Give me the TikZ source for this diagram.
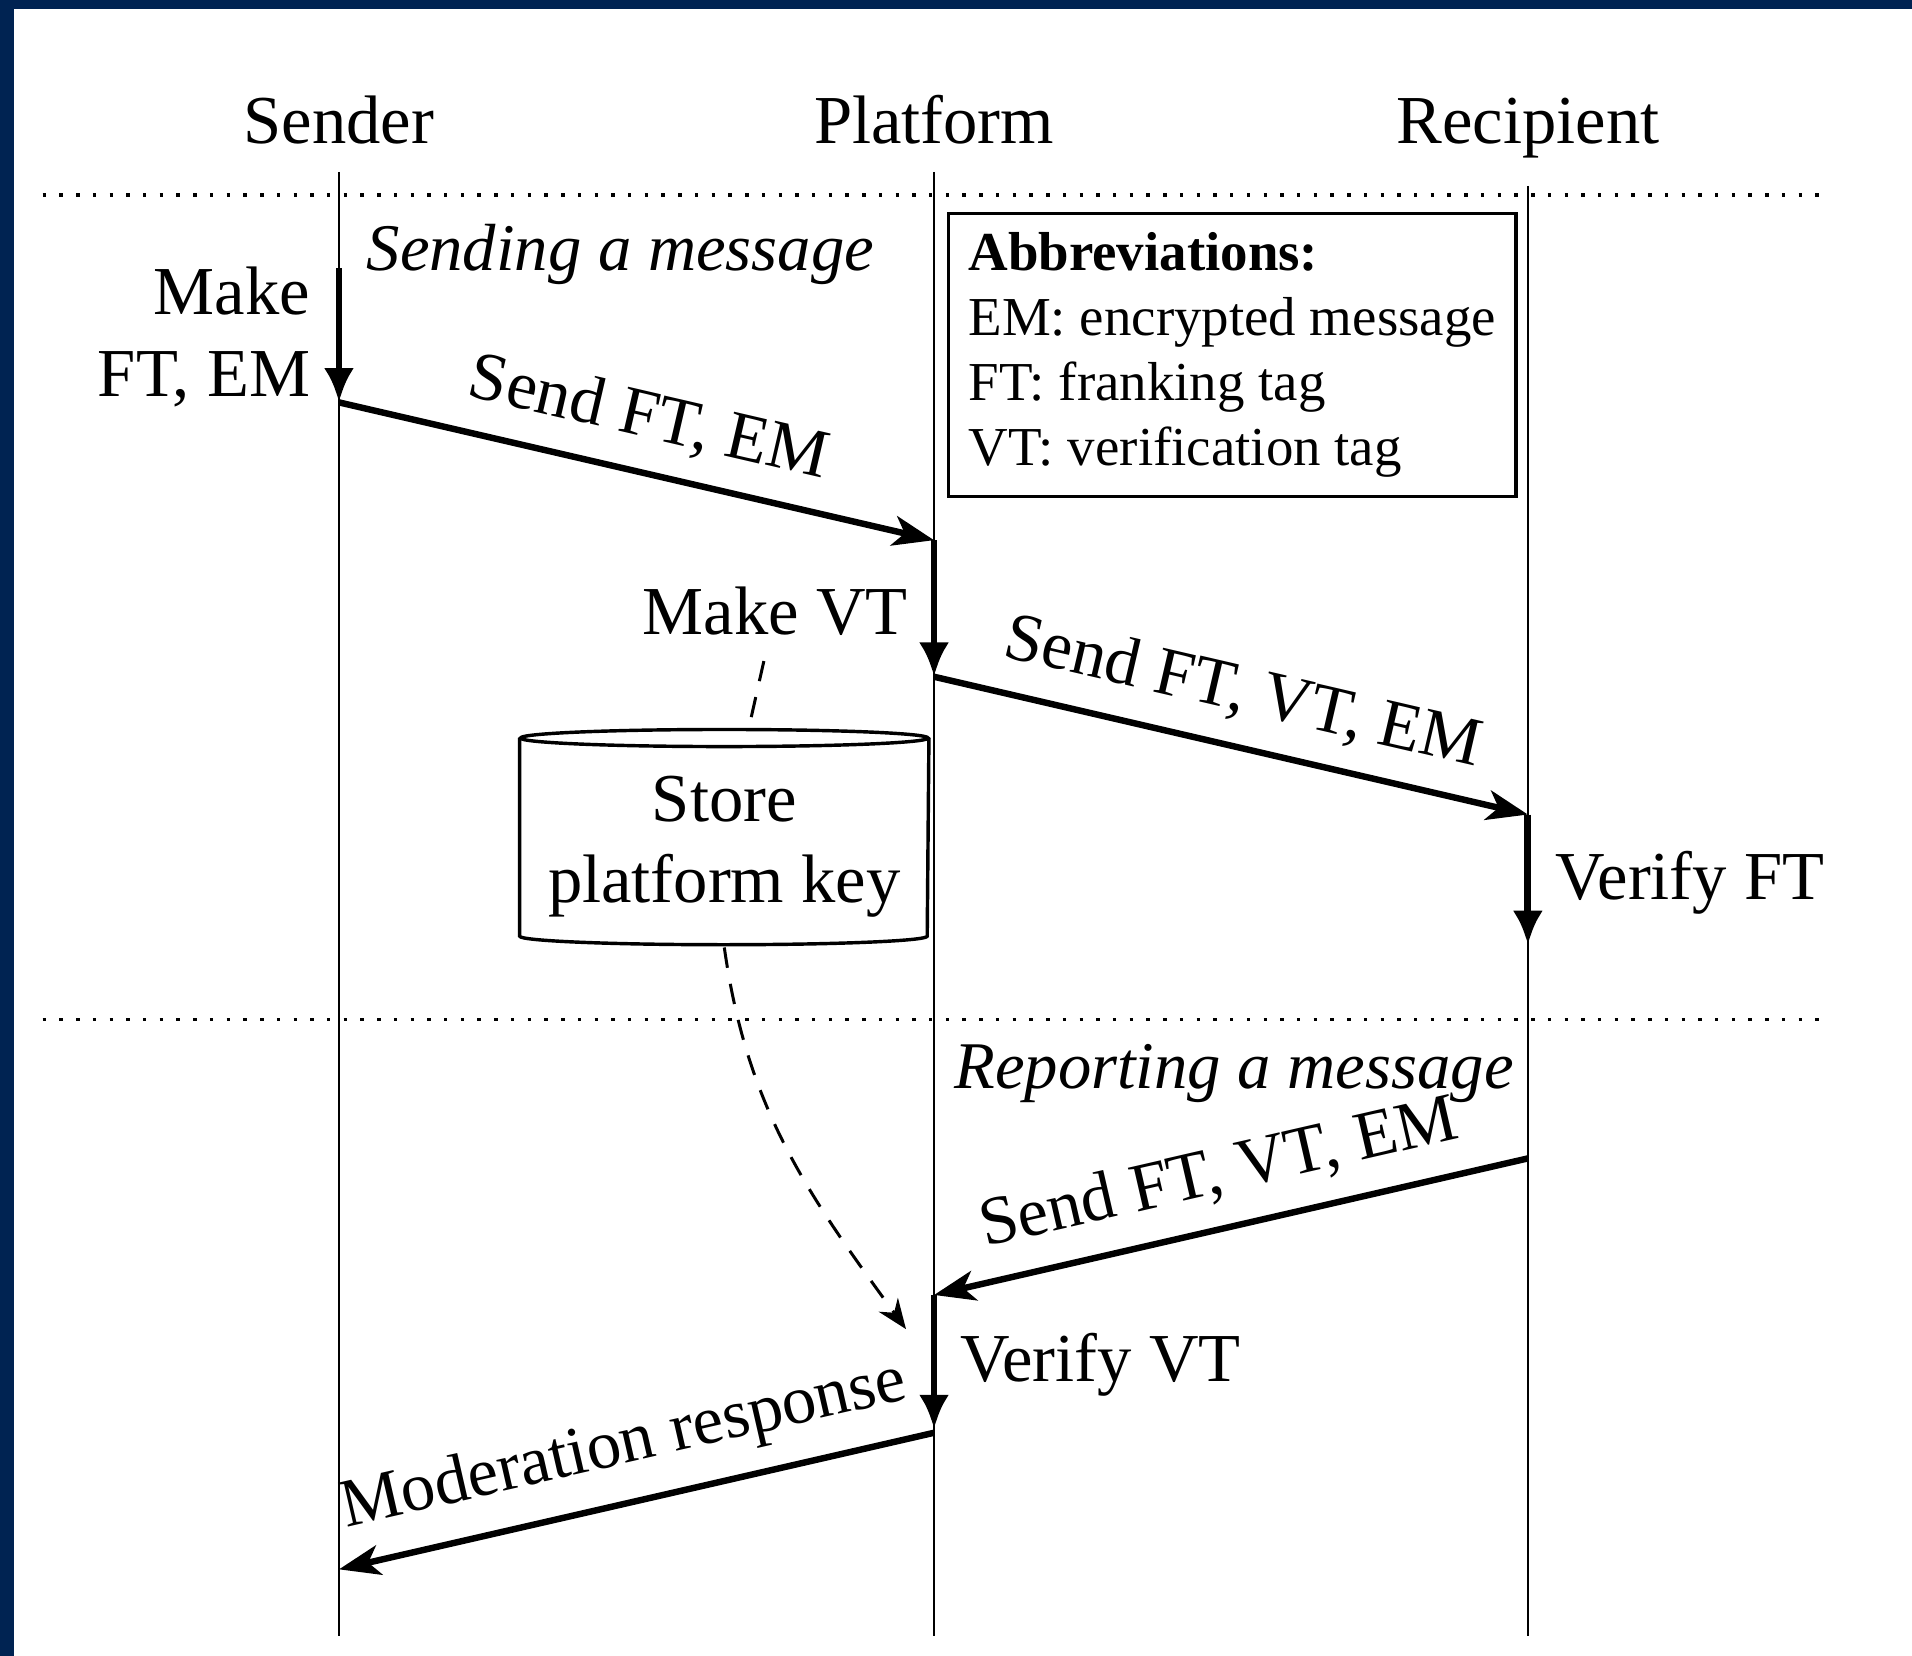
\documentclass[tikz,border=0pt]{standalone}
\usepackage{fontspec}
\setmainfont{Liberation Serif}
\usetikzlibrary{arrows.meta}
\definecolor{navy}{RGB}{0,35,82}
\begin{document}
\begin{tikzpicture}[x=0.01cm, y=-0.01cm,
  every node/.style={font=\fontsize{16}{19}\selectfont, inner sep=0pt},
  head/.style={inner xsep=0pt, inner ysep=6.2pt},
  life/.style={line width=0.6pt},
  sepline/.style={line width=0.8pt, dash pattern=on 0.8pt off 3.1pt},
  act/.style={line width=1.6pt, -{Latex[length=8pt,width=7pt]}},
  msg/.style={line width=1.5pt, -{Stealth[length=9.6pt,width=7pt,inset=2.6pt]}},
  msglabel/.style={sloped, above, midway, inner sep=5pt},
  link/.style={line width=0.7pt, dash pattern=on 4.8pt off 3.8pt},
  cyl/.style={line width=0.8pt},
  phase/.style={font=\fontsize{15.55}{19}\selectfont\itshape},
]
% background and frame
\fill[white] (0,0) rectangle (1568,1358);
\fill[navy] (0,0) rectangle (11.5,1358);
\fill[navy] (0,0) rectangle (1568,7.4);
\useasboundingbox (0,0) rectangle (1568,1358);

% headers
\node[head, anchor=base] (snd) at (278,118) {Sender};
\node[head, anchor=base] (plt) at (766,118) {Platform};
\node[head, anchor=base] (rcp) at (1253,118) {Recipient};

% lifelines
\coordinate (sndend) at (278,1342);
\coordinate (pltend) at (766,1342);
\coordinate (rcpend) at (1253,1342);
\draw[life] (snd.south) -- (sndend);
\draw[life] (plt.south) -- (pltend);
\draw[life] (rcp.south) -- (rcpend);

% phase separators
\coordinate (d1l) at (35,160); \coordinate (d1r) at (1497,160);
\coordinate (d2l) at (35,836); \coordinate (d2r) at (1497,836);
\draw[sepline] (d1l) -- (d1r);
\draw[sepline] (d2l) -- (d2r);

% phase titles
\node[phase, anchor=base west] (sendtitle) at (300,222) {Sending a message};
\node[phase, anchor=base west] (reptitle) at (782,893) {Reporting a message};

% abbreviations
\node[draw, line width=0.8pt, minimum width=4.65cm, minimum height=2.32cm, align=left,
      font=\fontsize{12.8}{15.1}\selectfont] (abbr) at (1010.5,291)
  {\textbf{Abbreviations:}\\EM: encrypted message\\FT: franking tag\\VT: verification tag};

% event points
\coordinate (s1) at (278,220);
\coordinate (s2) at (278,330);
\coordinate (p1) at (766,443);
\coordinate (p2) at (766,555);
\coordinate (r1) at (1253,668);
\coordinate (r2) at (1253,775);
\coordinate (r3) at (1253,950);
\coordinate (p3) at (766,1062);
\coordinate (p4) at (766,1172);
\coordinate (p5) at (766,1175);
\coordinate (s3) at (278,1287);

% sending
\draw[act] (s1) -- (s2);
\node[anchor=base east, align=right] (mkft) at (255,325) {Make\\FT, EM};
\draw[msg] (s2) -- node[msglabel] (lblA) {Send FT, EM} (p1);
\draw[act] (p1) -- (p2);
\node[anchor=base east] (mkvt) at (745,520) {Make VT};
\draw[msg] (p2) -- node[msglabel] (lblB) {Send FT, VT, EM} (r1);
\draw[act] (r1) -- (r2);
\node[anchor=base west] (vft) at (1275,738) {Verify FT};

% store
\node[align=center, minimum width=3.34cm, minimum height=1.61cm] (store) at (594,686.5)
  {\rule{0pt}{15pt}Store\\platform key};
\draw[cyl] (store.north west) -- (store.south west)
  arc[start angle=180, end angle=360, x radius=1.67cm, y radius=0.07cm] -- (store.north east);
\draw[cyl] (store.north) ellipse[x radius=1.67cm, y radius=0.07cm];
\coordinate (storebot) at (594,777);
\coordinate (vvtin) at (743,1090);
\draw[link, shorten <=6pt, shorten >=3.5pt] (mkvt) -- (store);
\draw[link, -{Stealth[length=7pt,width=5.5pt]}] (storebot) to[out=-82, in=126] (vvtin);

% reporting
\draw[msg] (r3) -- node[msglabel] (lblC) {Send FT, VT, EM} (p3);
\draw[act] (p3) -- (p4);
\node[anchor=base west] (vvt) at (787,1133) {Verify VT};
\draw[msg] (p5) -- node[msglabel] (lblD) {Moderation response} (s3);
\end{tikzpicture}
\end{document}
